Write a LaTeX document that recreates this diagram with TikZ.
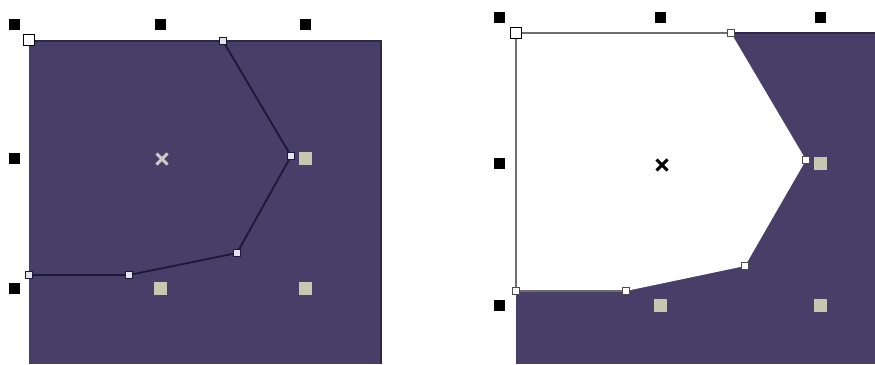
\documentclass[tikz,border=0pt]{standalone}
\definecolor{fillpurple}{RGB}{71,63,104}
\definecolor{edgepurple}{RGB}{45,40,72}
\definecolor{pathnavy}{RGB}{28,24,56}
\definecolor{beige}{RGB}{200,200,176}
\definecolor{crossgray}{RGB}{205,205,200}
\definecolor{outlinegray}{RGB}{110,110,110}
\tikzset{
  blk/.style={fill=black, minimum size=11pt, inner sep=0pt, draw=none},
  beigebox/.style={fill=beige, minimum size=13pt, inner sep=0pt, draw=none},
  nodemark/.style={draw=pathnavy, fill=white!85!fillpurple, line width=0.9pt, minimum size=6.5pt, inner sep=0pt},
  nodemarkw/.style={draw=outlinegray!70!black, fill=white, line width=0.9pt, minimum size=6.5pt, inner sep=0pt},
  handle/.style={draw=black, fill=white, line width=1.8pt, minimum size=11pt, inner sep=0pt},
  crossline/.style={line width=3pt},
}
\begin{document}
\begin{tikzpicture}[x=1pt,y=-1pt]
\useasboundingbox (0,0) rectangle (875,364);
% ---------- left panel ----------
\fill[fillpurple] (29,41) rectangle (382,364);
\draw[edgepurple, line width=1.5pt] (29,41) -- (382,41);
\draw[edgepurple, line width=2pt] (381,41) -- (381,364);
\node[blk] (l1) at (14,24) {};
\node[blk] (l2) at (160,24) {};
\node[blk] (l3) at (305,24) {};
\node[blk] (l4) at (14,158) {};
\node[blk] (l5) at (14,288) {};
\node[beigebox] (lb1) at (305,158) {};
\node[beigebox] (lb2) at (160,288) {};
\node[beigebox] (lb3) at (305,288) {};
\coordinate (la) at (29,275);
\coordinate (lb) at (129,275);
\coordinate (lc) at (237,253);
\coordinate (ld) at (291,156);
\coordinate (le) at (223,41);
\draw[pathnavy, line width=1.8pt] (la) -- (lb) -- (lc) -- (ld) -- (le);
\foreach \p in {la,lb,lc,ld,le} \node[nodemark] at (\p) {};
\node[handle] (lh) at (29,40) {};
\coordinate (lx) at (162,159);
\draw[crossline, crossgray] ([shift={(-5.5,-5.5)}]lx) -- ([shift={(5.5,5.5)}]lx);
\draw[crossline, crossgray] ([shift={(-5.5,5.5)}]lx) -- ([shift={(5.5,-5.5)}]lx);
% ---------- right panel ----------
\fill[fillpurple] (516,33) rectangle (875,364);
\draw[edgepurple, line width=1.5pt] (516,33) -- (875,33);
\coordinate (ra) at (516,291);
\coordinate (rb) at (626,291);
\coordinate (rc) at (745,266);
\coordinate (rd) at (806,160);
\coordinate (re) at (731,33);
\coordinate (rf) at (516,33);
\fill[white] (rf) -- (re) -- (rd) -- (rc) -- (rb) -- (ra) -- cycle;
\draw[outlinegray, line width=1.4pt] (rb) -- (ra) -- (rf) -- (re);
\node[blk] (r1) at (499,17) {};
\node[blk] (r2) at (660,17) {};
\node[blk] (r3) at (820,17) {};
\node[blk] (r4) at (499,163) {};
\node[blk] (r5) at (499,305) {};
\node[beigebox] (rb1) at (820,163) {};
\node[beigebox] (rb2) at (660,305) {};
\node[beigebox] (rb3) at (820,305) {};
\foreach \p in {ra,rb,rc,rd,re} \node[nodemarkw] at (\p) {};
\node[handle] (rh) at (516,33) {};
\coordinate (rx) at (662,165);
\draw[crossline, black] ([shift={(-5.5,-5.5)}]rx) -- ([shift={(5.5,5.5)}]rx);
\draw[crossline, black] ([shift={(-5.5,5.5)}]rx) -- ([shift={(5.5,-5.5)}]rx);
\end{tikzpicture}
\end{document}
